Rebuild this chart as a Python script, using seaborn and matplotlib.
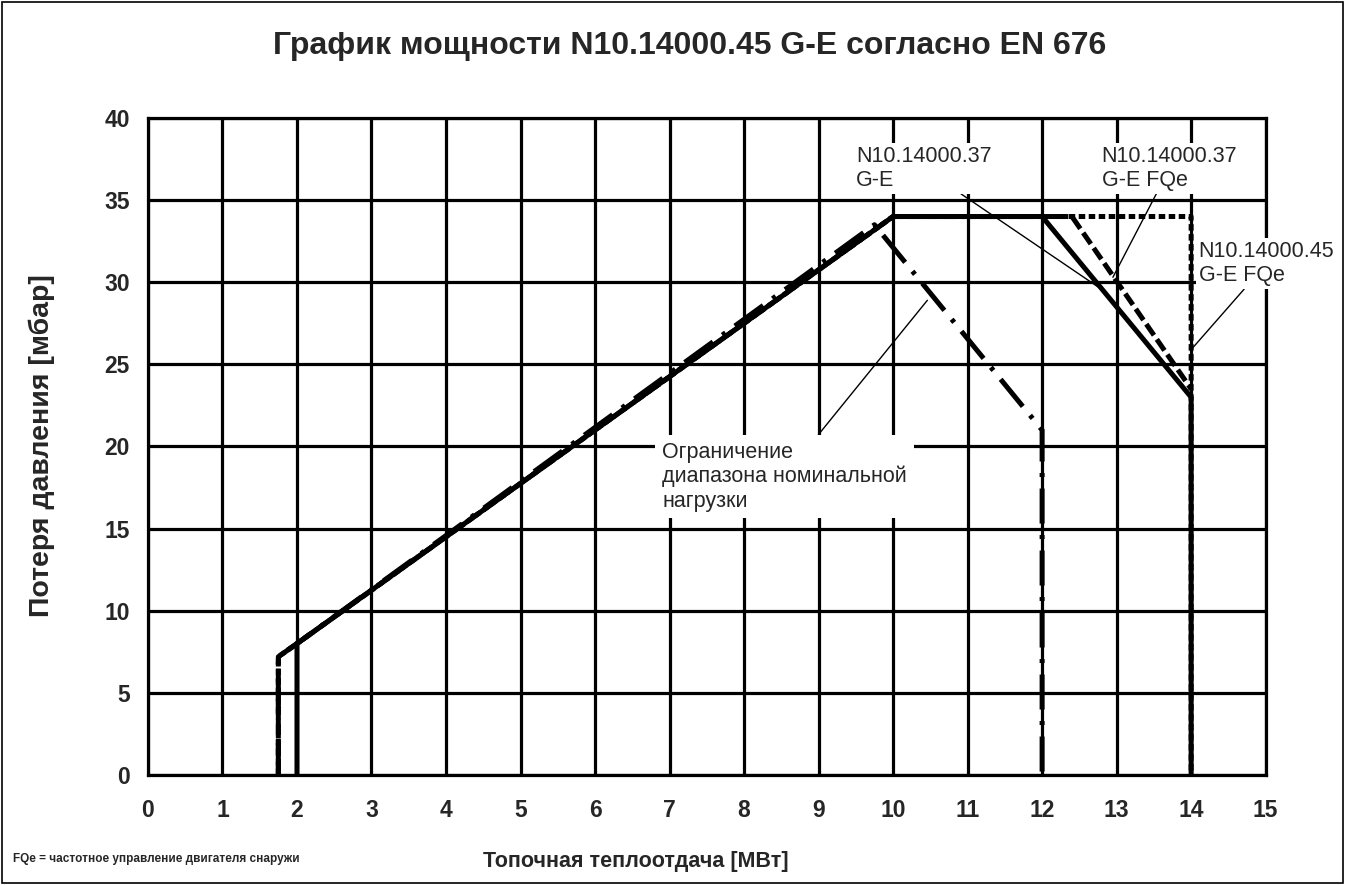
import pandas as pd
import matplotlib.pyplot as plt
import matplotlib.patches as mpatches
import seaborn as sns

# curves (x = MW, y = mbar)
names = ["N10.14000.37 G-E", "N10.14000.37 G-E FQe", "N10.14000.45 G-E FQe", "limit"]
x_37 = [2.0, 2.0, 10.0, 12.0, 14.0, 14.0]
y_37 = [0.0, 8.0, 34.0, 34.0, 23.0, 0.0]
x_37fq = [1.75, 1.75, 2.0, 10.0, 12.4, 14.0]
y_37fq = [0.0, 7.2, 8.0, 34.0, 34.0, 23.5]
x_45fq = [1.75, 1.75, 2.0, 10.0, 14.0, 14.0]
y_45fq = [0.0, 7.2, 8.0, 34.0, 34.0, 0.0]
x_lim = [1.75, 1.75, 2.0, 9.75, 12.0, 12.0]
y_lim = [0.0, 7.2, 8.0, 33.5, 21.0, 0.0]

x_ticks = list(range(0, 16))
y_ticks = [0, 5, 10, 15, 20, 25, 30, 35, 40]

frames = []
for name, xs, ys in zip(names, [x_37, x_37fq, x_45fq, x_lim], [y_37, y_37fq, y_45fq, y_lim]):
    frames.append(pd.DataFrame({"x": xs, "y": ys, "series": name, "order": range(len(xs))}))
df = pd.concat(frames, ignore_index=True)

sns.set_style("white")
plt.rcParams['font.family'] = ['Liberation Sans', 'DejaVu Sans']

fig = plt.figure(figsize=(13.45, 8.85), dpi=100)
ax = fig.add_axes([0.110, 0.1243, 0.831, 0.7424])

sns.lineplot(data=df, x="x", y="y", hue="series", style="series", sort=False, estimator=None,
             palette={n: "black" for n in names},
             dashes={names[0]: "", names[1]: (2.7, 1.0), names[2]: (1.3, 0.7), names[3]: (7, 2.3, 0.8, 2.3)},
             linewidth=3.6, legend=False, ax=ax, zorder=3)

ax.set_xlim(0, 15)
ax.set_ylim(0, 40)
ax.set_xticks(x_ticks)
ax.set_yticks(y_ticks)
ax.grid(True, color="black", linewidth=2.3)
ax.set_axisbelow(True)
for s in ax.spines.values():
    s.set_color("black")
    s.set_linewidth(2.3)
    s.set_zorder(1)
ax.tick_params(axis="x", length=0, pad=17, labelsize=16.5)
ax.tick_params(axis="y", length=0, pad=13, labelsize=16.5)
for lab in ax.get_xticklabels() + ax.get_yticklabels():
    lab.set_fontweight("bold")

ax.set_xlabel("")
ax.set_ylabel("")
fig.text(0.031, 0.497, "Потеря давления [мбар]", rotation=90, ha="center", va="center",
         fontsize=20.5, fontweight="bold")
fig.text(0.473, 0.027, "Топочная теплоотдача [МВт]", ha="center", va="center",
         fontsize=15.5, fontweight="bold")
fig.text(0.010, 0.029, "FQe = частотное управление двигателя снаружи", ha="left", va="center",
         fontsize=8.5, fontweight="bold")
fig.text(0.513, 0.948, "График мощности N10.14000.45 G-E согласно EN 676", ha="center", va="center",
         fontsize=23, fontweight="bold")

box = dict(facecolor="white", edgecolor="none", pad=2)
arrow = dict(arrowstyle="-", color="black", lw=1.0, shrinkA=0, shrinkB=0)
ax.annotate("N10.14000.37\nG-E", xy=(12.82, 29.5), xytext=(9.5, 38.3), fontsize=15.5,
            va="top", ha="left", bbox=box, arrowprops=arrow, zorder=5,
            annotation_clip=False)
ax.annotate("N10.14000.37\nG-E FQe", xy=(12.95, 30.3), xytext=(12.8, 38.3), fontsize=15.5,
            va="top", ha="left", bbox=box, arrowprops=arrow, zorder=5,
            annotation_clip=False)
ax.annotate("N10.14000.45\nG-E FQe", xy=(14.02, 26.0), xytext=(14.1, 32.5), fontsize=15.5,
            va="top", ha="left", bbox=box, arrowprops=arrow, zorder=5,
            annotation_clip=False)
ax.annotate("Ограничение\nдиапазона номинальной\nнагрузки", xy=(10.46, 28.9), xytext=(6.9, 20.3),
            fontsize=15.5, va="top", ha="left", bbox=dict(facecolor="white", edgecolor="none", pad=5),
            arrowprops=arrow, zorder=5)

fig.patches.append(mpatches.Rectangle((0.0015, 0.002), 0.997, 0.996, transform=fig.transFigure,
                                      fill=False, edgecolor="black", linewidth=1.2))

fig.savefig("out.png", dpi=100)
